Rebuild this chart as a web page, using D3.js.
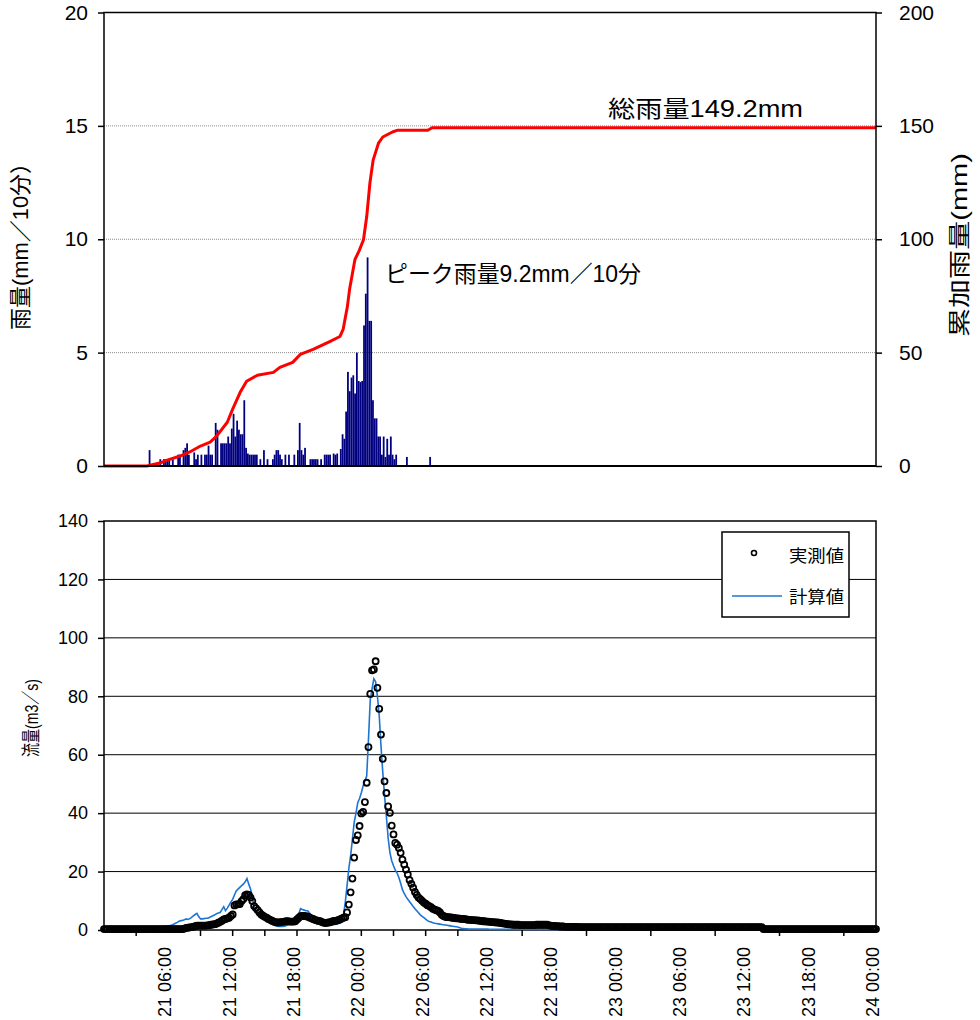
<!DOCTYPE html>
<html>
<head>
<meta charset="utf-8">
<script src="https://cdn.jsdelivr.net/npm/d3@7"></script>
<style>
  body { margin: 0; background: #fff; }
  svg text { font-family: "Liberation Sans", Arial, "Noto Sans CJK JP", sans-serif; fill: #000; }
</style>
</head>
<body>
<svg id="chart" width="980" height="1020"></svg>
<script>
// time axis: 21 00:00 -> 24 00:00, data every 10 minutes
const startTime = new Date(2000, 0, 21, 0, 0);
const endTime = new Date(2000, 0, 24, 0, 0);
const stepMinutes = 10;

// rainfall per 10 min (mm), from 21 00:00 (rows = 2 hours)
const rain = [
  0,0,0,0,0,0,0,0,0,0,0,0,
  0,0,0,0,0,0,0,0,0,0,0,0,
  0,0.7,0,0,0,0,0,0.3,0,0.3,0.3,0.3,
  0.3,0,0.3,0,0,0.5,0.5,0,0.7,0.8,1.0,0.5,
  0,0,0.6,0.3,0.5,0,0.5,0,0.5,0.5,0.9,0.5,
  0.5,0,1.9,1.6,0,1.0,1.0,1.0,1.0,1.3,1.0,1.65,
  2.3,1.3,2.0,1.6,1.4,1.4,2.9,0.8,0.55,0.5,0.5,0.5,
  0.5,0.5,0,0.3,0,0.7,0,0.3,0,0,0.3,0.5,
  0.7,0.7,0.5,0.3,0,0.5,0,0.5,0,0,0.5,0,
  0.7,1.9,0.7,0.5,0.8,0,0,0.3,0.3,0.3,0.3,0.3,
  0,0.3,0,0.5,0.5,0.5,0.5,0,0.55,0.5,0.55,0,
  0.75,1.4,1.2,2.4,4.15,3.3,3.9,4.0,3.2,5.0,3.75,3.7,
  3.75,6.2,7.6,9.2,6.4,6.4,2.9,2.1,2.1,1.3,1.3,0.5,
  1.3,0.4,1.2,0.5,1.3,0.5,0.3,0.5,0,0,0,0,
  0,0.4,0,0,0,0,0,0,0,0,0,0,
  0,0,0.4,0,0,0,0,0,0,0,0,0
];

// cumulative rainfall (mm)
const cumHours = [0, 4.0, 5.2, 5.9, 7.1, 8.0, 9.0, 9.9, 10.5, 11.5, 12.0, 12.7, 13.3, 14.3, 15.8, 16.4, 17.6, 18.3, 19.5, 21.1, 22.0, 22.3, 22.7, 22.9, 23.4, 23.8, 24.2, 24.5, 24.8, 25.1, 25.6, 26.0, 26.9, 27.4, 30.2, 30.6, 72];
const cumRain = [0, 0, 1.3, 2.6, 4.4, 6.2, 8.8, 10.5, 13.2, 19.3, 25.1, 32.5, 37.4, 40.0, 41.3, 43.5, 45.7, 49.2, 51.4, 55.0, 57.1, 60.2, 70.3, 77.8, 91.0, 95.0, 99.8, 109.9, 124.8, 134.9, 142.4, 145.1, 147.3, 148.1, 148.1, 149.2, 149.2];

// observed discharge (m3/s), every 10 min from 21 00:00
const observedFlow = [
  0.3,0.3,0.3,0.3,0.3,0.3,0.3,0.3,0.3,0.3,0.3,0.3,
  0.3,0.3,0.3,0.3,0.3,0.3,0.3,0.3,0.3,0.3,0.3,0.3,
  0.3,0.3,0.3,0.3,0.3,0.3,0.3,0.3,0.3,0.3,0.3,0.3,
  0.3,0.3,0.3,0.3,0.3,0.3,0.3,0.3,0.3,0.5,0.7,0.8,
  0.9,1.0,1.1,1.3,1.5,1.5,1.5,1.5,1.5,1.5,1.6,1.7,
  1.8,1.9,2.0,2.2,2.5,2.8,3.2,3.6,3.8,4.0,4.2,4.8,
  5.3,8.4,8.8,8.8,8.9,9.9,10.6,11.9,12.2,12.0,11.1,9.9,
  8.2,7.5,6.8,6.0,5.3,4.9,4.5,4.2,3.8,3.5,3.2,2.9,
  2.7,2.6,2.6,2.7,2.8,2.9,3.0,3.0,2.9,2.9,2.9,3.0,
  3.6,4.2,4.7,4.8,4.8,4.7,4.6,4.3,4.0,3.8,3.5,3.3,
  3.1,3.0,2.7,2.5,2.4,2.5,2.6,2.8,3.0,3.1,3.2,3.4,
  3.6,3.9,4.2,4.4,6.0,8.7,12.9,17.6,24.8,30.8,32.4,35.6,
  39.9,40.4,43.8,50.4,62.6,80.8,88.9,89.2,92.0,82.9,75.7,66.9,
  58.6,50.9,46.9,42.3,40.1,35.7,32.7,29.8,29.2,28.1,26.4,24.1,
  22.4,20.7,19.0,17.1,15.8,14.5,13.0,12.0,11.1,10.6,10.0,9.4,
  9.0,8.5,8.2,7.8,7.3,7.0,6.8,6.5,6.0,5.2,4.8,4.5,
  4.4,4.4,4.3,4.2,4.1,4.0,4.0,3.9,3.8,3.8,3.7,3.6,
  3.5,3.5,3.4,3.4,3.3,3.3,3.2,3.1,3.0,3.0,2.9,2.9,
  2.8,2.7,2.7,2.6,2.6,2.5,2.4,2.3,2.2,2.1,2.0,1.9,
  1.9,1.8,1.8,1.8,1.8,1.7,1.7,1.7,1.7,1.7,1.7,1.7,
  1.7,1.7,1.8,1.8,1.8,1.8,1.8,1.8,1.8,1.6,1.5,1.4,
  1.4,1.3,1.3,1.2,1.2,1.2,1.1,1.1,1.1,1.1,1.1,1.1,
  1.1,1.1,1.0,1.0,1.0,1.0,1.0,1.0,1.0,1.0,1.0,1.0,
  1.0,1.0,1.0,1.0,1.0,1.0,1.0,1.0,1.0,1.0,1.0,1.0,
  1.0,1.0,1.0,1.0,1.0,1.0,1.0,1.0,1.0,1.0,1.0,1.0,
  1.0,1.0,1.0,1.0,1.0,1.0,1.0,1.0,1.0,1.0,1.0,1.0,
  1.0,1.0,1.0,1.0,1.0,1.0,1.0,1.0,1.0,1.0,1.0,1.0,
  1.0,1.0,1.0,1.0,1.0,1.0,1.0,1.0,1.0,1.0,1.0,1.0,
  1.0,1.0,1.0,1.0,1.0,1.0,1.0,1.0,1.0,1.0,1.0,1.0,
  1.0,1.0,1.0,1.0,1.0,1.0,1.0,1.0,1.0,1.0,1.0,1.0,
  1.0,1.0,1.0,1.0,1.0,1.0,1.0,1.0,1.0,0.3,0.3,0.3,
  0.3,0.3,0.3,0.3,0.3,0.3,0.3,0.3,0.3,0.3,0.3,0.3,
  0.3,0.3,0.3,0.3,0.3,0.3,0.3,0.3,0.3,0.3,0.3,0.3,
  0.3,0.3,0.3,0.3,0.3,0.3,0.3,0.3,0.3,0.3,0.3,0.3,
  0.3,0.3,0.3,0.3,0.3,0.3,0.3,0.3,0.3,0.3,0.3,0.3,
  0.3,0.3,0.3,0.3,0.3,0.3,0.3,0.3,0.3,0.3,0.3,0.3,
  0.3
];

// computed discharge (m3/s), every 10 min from 21 00:00
const computedFlow = [
  0,0,0,0,0,0,0,0,0,0,0,0,
  0,0,0,0,0,0,0,0,0,0,0,0,
  0,0,0.3,0.5,0.7,0.9,1.0,1.1,1.1,1.2,1.2,1.3,
  1.4,1.5,1.7,2.0,2.3,2.6,3.0,3.2,3.3,3.5,3.8,3.6,
  3.9,4.3,4.8,5.3,5.7,4.6,3.8,3.8,3.9,4.0,4.0,4.3,
  4.6,4.9,5.2,5.6,5.8,6.0,7.0,8.0,6.6,7.5,8.5,9.6,
  10.5,12.0,13.4,14.0,14.6,15.2,15.7,16.5,17.6,15.7,14.0,11.5,
  7.7,6.5,5.6,4.9,4.5,4.0,3.6,3.2,2.8,2.4,2.0,1.7,
  1.5,1.3,1.2,1.2,1.2,1.3,1.5,1.8,2.2,2.6,3.0,3.4,
  3.8,5.5,7.3,7.0,6.8,6.6,6.6,5.8,5.0,4.2,3.6,3.1,
  2.8,2.5,2.2,2.0,1.8,1.7,1.7,1.7,1.8,1.9,2.0,2.2,
  2.3,3.0,5.2,9.4,15.1,21.0,25.4,31.0,36.8,40.0,43.6,45.0,
  47.0,49.3,51.0,52.7,65.2,78.9,82.5,86.0,85.0,80.0,73.5,63.0,
  54.0,46.0,39.0,31.5,26.5,23.7,22.0,20.5,19.5,18.0,16.0,13.8,
  12.5,11.4,10.5,9.7,8.9,8.0,7.3,6.6,5.9,5.2,4.7,4.2,
  3.7,3.2,2.9,2.7,2.5,2.3,2.2,2.1,2.0,1.9,1.8,1.7,
  1.6,1.5,1.4,1.3,1.2,1.1,1.0,0.8,0.6,0.5,0.4,0.4,
  0.3,0.3,0.3,0.3,0.3,0.3,0.3,0.3,0.3,0.3,0.3,0.3,
  0.2,0.2,0.2,0.2,0.2,0.2,0.2,0.2,0.2,0.2,0.2,0.2,
  0.2,0.2,0.2,0.2,0.2,0.2,0.2,0.2,0.2,0.2,0.2,0.2,
  0.2,0.2,0.2,0.2,0.2,0.2,0.2,0.2,0.2,0.2,0.2,0.2,
  0.2,0.2,0.2,0.2,0.2,0.2,0.2,0.2,0.2,0.2,0.2,0.2,
  0.1,0.1,0.1,0.1,0.1,0.1,0.1,0.1,0.1,0.1,0.1,0.1,
  0.1,0.1,0.1,0.1,0.1,0.1,0.1,0.1,0.1,0.1,0.1,0.1,
  0.1,0.1,0.1,0.1,0.1,0.1,0.1,0.1,0.1,0.1,0.1,0.1,
  0.1,0.1,0.1,0.1,0.1,0.1,0.1,0.1,0.1,0.1,0.1,0.1,
  0.1,0.1,0.1,0.1,0.1,0.1,0.1,0.1,0.1,0.1,0.1,0.1,
  0.1,0.1,0.1,0.1,0.1,0.1,0.1,0.1,0.1,0.1,0.1,0.1,
  0.1,0.1,0.1,0.1,0.1,0.1,0.1,0.1,0.1,0.1,0.1,0.1,
  0.1,0.1,0.1,0.1,0.1,0.1,0.1,0.1,0.1,0.1,0.1,0.1,
  0.1,0.1,0.1,0.1,0.1,0.1,0.1,0.1,0.1,0.1,0.1,0.1,
  0.1,0.1,0.1,0.1,0.1,0.1,0.1,0.1,0.1,0.1,0.1,0.1,
  0.1,0.1,0.1,0.1,0.1,0.1,0.1,0.1,0.1,0.1,0.1,0.1,
  0.1,0.1,0.1,0.1,0.1,0.1,0.1,0.1,0.1,0.1,0.1,0.1,
  0.1,0.1,0.1,0.1,0.1,0.1,0.1,0.1,0.1,0.1,0.1,0.1,
  0.1,0.1,0.1,0.1,0.1,0.1,0.1,0.1,0.1,0.1,0.1,0.1,
  0.1
];

const rainTicks = [0, 5, 10, 15, 20];
const cumTicks = [0, 50, 100, 150, 200];
const flowTicks = [0, 20, 40, 60, 80, 100, 120, 140];
const timeTickHours = [3, 9, 12, 15, 18, 21, 24, 27, 30, 33, 39, 45, 51, 57, 63, 69];
const timeLabelHours = [6, 12, 18, 24, 30, 36, 42, 48, 54, 60, 66, 72];

const svg = d3.select('#chart');
const left = 104, right = 876;
const x = d3.scaleTime().domain([startTime, endTime]).range([left, right]);
const atStep = i => d3.timeMinute.offset(startTime, i * stepMinutes);
const atHour = h => d3.timeMinute.offset(startTime, Math.round(h * 60));

// text helper: stretch glyphs to the width seen in the picture
function label(sel, txt, size, len) {
  return sel.append('text')
    .attr('font-size', size)
    .attr('textLength', len)
    .attr('lengthAdjust', 'spacingAndGlyphs')
    .text(txt);
}

// ---------- top: rainfall ----------
const top1 = 12.5, bot1 = 466;
const yRain = d3.scaleLinear().domain([0, 20]).range([bot1, top1]);
const yCum = d3.scaleLinear().domain([0, 200]).range([bot1, top1]);

svg.append('g')
  .selectAll('line')
  .data([5, 10, 15])
  .join('line')
  .attr('x1', left).attr('x2', right)
  .attr('y1', d => yRain(d)).attr('y2', d => yRain(d))
  .attr('stroke', '#8a8a8a')
  .attr('stroke-width', 1)
  .attr('stroke-dasharray', '1,1');

svg.append('g')
  .selectAll('rect')
  .data(rain.map((v, i) => ({ v, i })).filter(d => d.v > 0))
  .join('rect')
  .attr('x', d => x(atStep(d.i)))
  .attr('width', d => x(atStep(d.i + 1)) - x(atStep(d.i)))
  .attr('y', d => yRain(d.v))
  .attr('height', d => yRain(0) - yRain(d.v))
  .attr('fill', '#000080');

const cumLine = d3.line()
  .x((d, i) => x(atHour(cumHours[i])))
  .y(d => yCum(d));

svg.append('path')
  .datum(cumRain)
  .attr('d', cumLine)
  .attr('fill', 'none')
  .attr('stroke', '#ff0000')
  .attr('stroke-width', 3)
  .attr('stroke-linejoin', 'round');

svg.append('rect')
  .attr('x', left).attr('y', top1)
  .attr('width', right - left).attr('height', bot1 - top1)
  .attr('fill', 'none')
  .attr('stroke', '#000')
  .attr('stroke-width', 1.5);
svg.append('line')
  .attr('x1', left).attr('x2', right).attr('y1', bot1).attr('y2', bot1)
  .attr('stroke', '#000').attr('stroke-width', 2);

const styleAxis = (g, size) => {
  g.select('.domain').remove();
  g.selectAll('.tick line').attr('stroke', '#000').attr('stroke-width', 1.5);
  g.selectAll('.tick text').attr('font-size', size).attr('font-family', null);
};

svg.append('g')
  .attr('transform', `translate(${left},0)`)
  .call(d3.axisLeft(yRain).tickValues(rainTicks).tickSize(6).tickPadding(10).tickSizeOuter(0))
  .call(g => styleAxis(g, 21));

svg.append('g')
  .attr('transform', `translate(${right},0)`)
  .call(d3.axisRight(yCum).tickValues(cumTicks).tickSize(6).tickPadding(17).tickSizeOuter(0))
  .call(g => styleAxis(g, 21));

label(svg, '雨量(mm／10分）', 22, 178)
  .attr('transform', 'translate(20,241) rotate(-90)')
  .attr('text-anchor', 'middle')
  .attr('dominant-baseline', 'central');

label(svg, '累加雨量(mm)', 22, 184)
  .attr('transform', 'translate(959,245) rotate(-90)')
  .attr('text-anchor', 'middle')
  .attr('dominant-baseline', 'central');

label(svg, '総雨量149.2mm', 23, 195)
  .attr('x', 608).attr('y', 117);

label(svg, 'ピーク雨量9.2mm／10分', 23, 256)
  .attr('x', 385).attr('y', 282);

// ---------- bottom: discharge ----------
const top2 = 521, bot2 = 930;
const yFlow = d3.scaleLinear().domain([0, 140]).range([bot2, top2]);

svg.append('g')
  .selectAll('line')
  .data(flowTicks.filter(d => d > 0 && d < 140))
  .join('line')
  .attr('x1', left).attr('x2', right)
  .attr('y1', d => yFlow(d)).attr('y2', d => yFlow(d))
  .attr('stroke', '#000')
  .attr('stroke-width', 1);

svg.append('rect')
  .attr('x', left).attr('y', top2)
  .attr('width', right - left).attr('height', bot2 - top2)
  .attr('fill', 'none')
  .attr('stroke', '#000')
  .attr('stroke-width', 1.5);

const flowLine = d3.line()
  .x((d, i) => x(atStep(i)))
  .y(d => yFlow(d));

svg.append('path')
  .datum(computedFlow)
  .attr('d', flowLine)
  .attr('fill', 'none')
  .attr('stroke', '#1c74d4')
  .attr('stroke-width', 1.6);

svg.append('g')
  .selectAll('circle')
  .data(observedFlow)
  .join('circle')
  .attr('cx', (d, i) => x(atStep(i)))
  .attr('cy', d => yFlow(d))
  .attr('r', 3)
  .attr('fill', 'none')
  .attr('stroke', '#000')
  .attr('stroke-width', 1.8);

svg.append('g')
  .attr('transform', `translate(${left},0)`)
  .call(d3.axisLeft(yFlow).tickValues(flowTicks).tickSize(6).tickPadding(10).tickSizeOuter(0))
  .call(g => styleAxis(g, 18));

svg.append('g')
  .selectAll('line')
  .data(timeTickHours)
  .join('line')
  .attr('x1', d => x(atHour(d))).attr('x2', d => x(atHour(d)))
  .attr('y1', bot2).attr('y2', bot2 + 6)
  .attr('stroke', '#000')
  .attr('stroke-width', 1.5);

const fmt = d3.timeFormat('%d %H:%M');
svg.append('g')
  .selectAll('text')
  .data(timeLabelHours)
  .join('text')
  .attr('transform', d => `translate(${x(atHour(d)) + 3},947) rotate(-90)`)
  .attr('text-anchor', 'end')
  .attr('font-size', 18)
  .text(d => fmt(atHour(d)));

label(svg, '流量(m3／s)', 19, 78)
  .attr('transform', 'translate(31,718) rotate(-90)')
  .attr('text-anchor', 'middle')
  .attr('dominant-baseline', 'central');

// legend
const legend = svg.append('g');
legend.append('rect')
  .attr('x', 722).attr('y', 532).attr('width', 127).attr('height', 85)
  .attr('fill', '#fff').attr('stroke', '#000').attr('stroke-width', 1.5);
legend.append('circle')
  .attr('cx', 754).attr('cy', 553).attr('r', 2.5)
  .attr('fill', 'none').attr('stroke', '#000').attr('stroke-width', 1.6);
legend.append('line')
  .attr('x1', 732).attr('x2', 782).attr('y1', 596).attr('y2', 596)
  .attr('stroke', '#1c74d4').attr('stroke-width', 1.6);
label(legend, '実測値', 17, 55)
  .attr('x', 789).attr('y', 556)
  .attr('dominant-baseline', 'central');
label(legend, '計算値', 17, 55)
  .attr('x', 789).attr('y', 597)
  .attr('dominant-baseline', 'central');
</script>
</body>
</html>
